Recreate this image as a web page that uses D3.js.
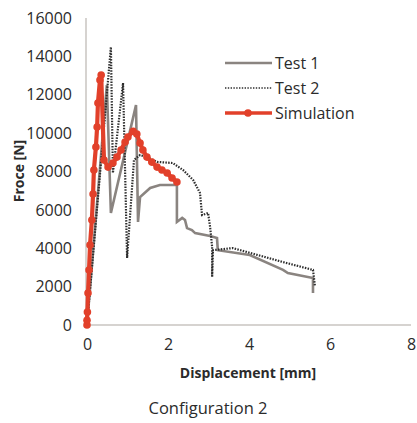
<!DOCTYPE html>
<html>
<head>
<meta charset="utf-8">
<script src="https://cdn.jsdelivr.net/npm/d3@7"></script>
<style>
  html, body { margin: 0; padding: 0; background: #fff; }
  svg { display: block; font-family: "Open Sans", "Noto Sans", sans-serif; }
</style>
</head>
<body>
<svg id="chart" width="417" height="423"></svg>
<script>
// ---- Data ----
const xTicks = [0, 2, 4, 6, 8];
const yTicks = [0, 2000, 4000, 6000, 8000, 10000, 12000, 14000, 16000];

const test1X = [0, 0.49, 0.59, 1.21, 1.26, 1.31, 1.56, 1.80, 2.22, 2.22, 2.35, 2.42, 2.47, 2.59, 2.67, 3.04, 3.21, 3.23, 4.02, 4.84, 4.96, 5.58, 5.58];
const test1Y = [0, 12500, 5840, 11460, 5370, 6670, 7140, 7300, 7300, 5370, 5580, 5470, 5050, 4950, 4790, 4640, 4530, 3900, 3650, 2870, 2710, 2450, 1670];

const test2X = [0, 0.59, 0.64, 0.89, 0.99, 1.16, 1.31, 1.48, 1.73, 2.12, 2.37, 2.62, 2.79, 2.84, 2.99, 3.04, 3.09, 3.09, 3.11, 3.60, 4.84, 5.58, 5.63];
const test2Y = [0, 14490, 7920, 12610, 3490, 8600, 8860, 8750, 8500, 8440, 8080, 7560, 6880, 5730, 5840, 5110, 4060, 2500, 3900, 4010, 3280, 2870, 2000];

const simX = [0, 0, 0.01, 0.025, 0.05, 0.075, 0.12, 0.15, 0.17, 0.22, 0.25, 0.27, 0.32, 0.35, 0.42, 0.52, 0.64, 0.74, 0.84, 0.94, 1.01, 1.14, 1.23, 1.31, 1.38, 1.48, 1.60, 1.73, 1.85, 1.98, 2.10, 2.22];
const simY = [0, 250, 680, 1670, 2870, 4170, 5470, 6830, 8080, 9280, 10320, 11570, 12770, 13030, 8600, 8230, 8440, 8750, 9120, 9540, 9800, 10100, 9950, 9480, 9120, 8750, 8490, 8230, 8080, 7920, 7660, 7450];

const seriesNames = ["Test 1", "Test 2", "Simulation"];

// ---- Layout ----
const svg = d3.select("#chart");
const x = d3.scaleLinear().domain([0, 8]).range([87, 411]);
const y = d3.scaleLinear().domain([0, 16000]).range([325, 18]);

const textColor = "#2b2b2b";
const c1 = "#8a8480", c2 = "#2e2e2e", cSim = "#e2402a";

// axes lines
svg.append("line").attr("x1", x(0) - 1).attr("x2", x(0) - 1).attr("y1", y(16000)).attr("y2", y(0))
  .attr("stroke", "#c9c4c0").attr("stroke-width", 1.5);
svg.append("line").attr("x1", x(0) - 1).attr("x2", x(8)).attr("y1", y(0)).attr("y2", y(0))
  .attr("stroke", "#c9c4c0").attr("stroke-width", 1.5);

// y tick labels via axis
const yAxis = d3.axisLeft(y).tickValues(yTicks).tickSize(0).tickPadding(15).tickFormat(d3.format("d"));
const gy = svg.append("g").attr("transform", `translate(${x(0)},0)`).call(yAxis);
gy.select(".domain").remove();
gy.selectAll("text").attr("font-size", 16).attr("fill", textColor).attr("font-family", "Open Sans");

const xAxis = d3.axisBottom(x).tickValues(xTicks).tickSize(0).tickPadding(14).tickFormat(d3.format("d"));
const gx = svg.append("g").attr("transform", `translate(0,${y(0)})`).call(xAxis);
gx.select(".domain").remove();
gx.selectAll("text").attr("font-size", 16).attr("fill", textColor).attr("font-family", "Open Sans");

// series
const line = d3.line().x(d => x(d[0])).y(d => y(d[1]));
const t1 = test1X.map((v, i) => [v, test1Y[i]]);
const t2 = test2X.map((v, i) => [v, test2Y[i]]);
const sim = simX.map((v, i) => [v, simY[i]]);

svg.append("path").datum(t1).attr("d", line).attr("fill", "none")
  .attr("stroke", c1).attr("stroke-width", 2.6).attr("stroke-linejoin", "miter");
svg.append("path").datum(t2).attr("d", line).attr("fill", "none")
  .attr("stroke", c2).attr("stroke-width", 2.2).attr("stroke-dasharray", "1.5,1.3");
svg.append("path").datum(sim).attr("d", line).attr("fill", "none")
  .attr("stroke", cSim).attr("stroke-width", 4.2).attr("stroke-linejoin", "round");
svg.append("g").selectAll("circle").data(sim).join("circle")
  .attr("cx", d => x(d[0])).attr("cy", d => y(d[1])).attr("r", 3.8).attr("fill", cSim);

// legend
const lg = svg.append("g");
const legY = [63, 88, 113];
lg.append("line").attr("x1", 225).attr("x2", 272).attr("y1", legY[0]).attr("y2", legY[0])
  .attr("stroke", c1).attr("stroke-width", 2.6);
lg.append("line").attr("x1", 225).attr("x2", 272).attr("y1", legY[1]).attr("y2", legY[1])
  .attr("stroke", c2).attr("stroke-width", 1.6).attr("stroke-dasharray", "1.4,1.4");
lg.append("line").attr("x1", 225).attr("x2", 272).attr("y1", legY[2]).attr("y2", legY[2])
  .attr("stroke", cSim).attr("stroke-width", 3.5);
lg.append("circle").attr("cx", 248).attr("cy", legY[2]).attr("r", 3.8).attr("fill", cSim);
lg.selectAll("text").data(seriesNames).join("text")
  .attr("x", 275).attr("y", (d, i) => legY[i]).attr("dy", "0.35em")
  .attr("font-size", 16).attr("fill", textColor).text(d => d);

// axis titles
svg.append("text").attr("transform", `translate(19,171) rotate(-90)`)
  .attr("text-anchor", "middle").attr("dy", "0.35em")
  .attr("font-size", 14).attr("font-weight", "bold").attr("fill", textColor).text("Froce [N]");
svg.append("text").attr("x", 248).attr("y", 378)
  .attr("text-anchor", "middle").attr("font-size", 14).attr("font-weight", "bold")
  .attr("fill", textColor).text("Displacement [mm]");
svg.append("text").attr("x", 208).attr("y", 414)
  .attr("text-anchor", "middle").attr("font-size", 16.5).attr("fill", textColor).text("Configuration 2");
</script>
</body>
</html>
